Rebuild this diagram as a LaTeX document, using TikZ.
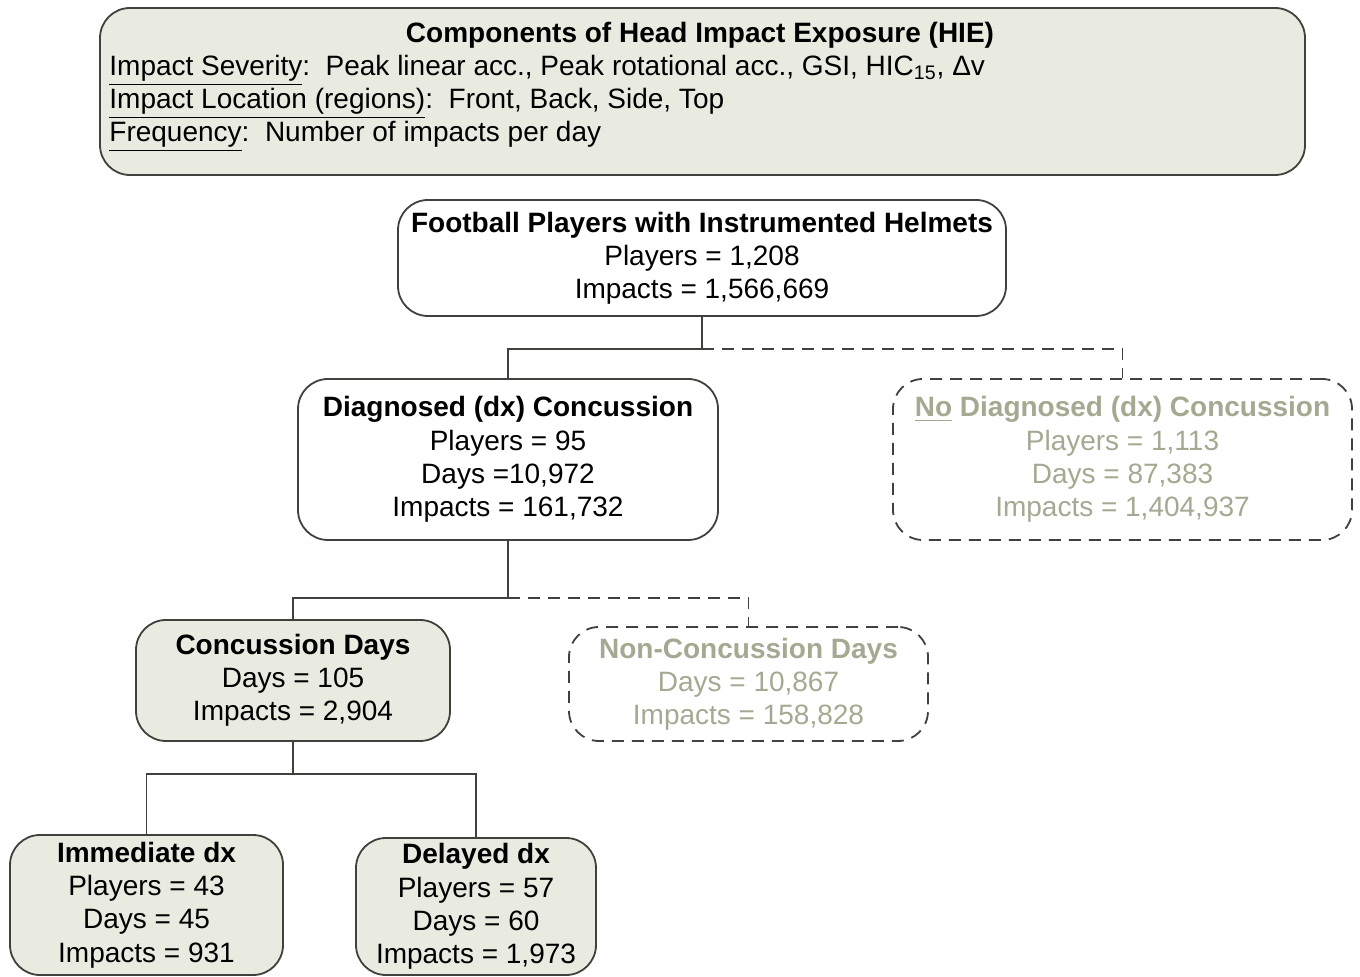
\documentclass[tikz,border=0pt]{standalone}
\usepackage{fontspec}
\setmainfont{Liberation Sans}
\usepackage{xcolor}
\definecolor{boxfill}{RGB}{233,235,224}
\definecolor{fadedgray}{RGB}{166,168,146}
\definecolor{edgegray}{RGB}{64,64,60}
\tikzset{%
    hiebox/.style={draw=edgegray, line width=0.9pt, rounded corners=15pt, inner sep=0pt},
    solidbox/.style={hiebox, align=center},
    dashbox/.style={solidbox, dash pattern=on 6pt off 4pt, text=fadedgray},
    link/.style={draw=edgegray, line width=0.9pt},
    dashlink/.style={link, dash pattern=on 6pt off 4pt}
}

\begin{document}
\begin{tikzpicture}[x=0.5pt,y=-0.5pt,font=\fontsize{14}{16.6}\selectfont]
\useasboundingbox (0,0) rectangle (1360,977);
\node[hiebox, fill=boxfill, minimum width=602.5pt, minimum height=83.5pt] (hie) at (702.5,91.5) {};
\node (hietitle) at (700,35) {\textbf{Components of Head Impact Exposure (HIE)}};
\node[anchor=west, align=left, inner sep=0pt] (hielist) at (109,103.5)
    {\underline{Impact Severity}:\ \ Peak linear acc., Peak rotational acc., GSI, HIC\textsubscript{15}, Δv\\
     \underline{Impact Location (regions)}:\ \ Front, Back, Side, Top\\
     \underline{Frequency}:\ \ Number of impacts per day};

\node[solidbox, fill=white, minimum width=304pt, minimum height=58pt] (football) at (702,258)
    {\textbf{Football Players with Instrumented Helmets}\\Players = 1,208\\Impacts = 1,566,669};
\node[solidbox, fill=white, minimum width=210pt, minimum height=80.5pt] (diag) at (508,459.5)
    {\textbf{Diagnosed (dx) Concussion}\\Players = 95\\Days =10,972\\Impacts = 161,732};
\node[dashbox, minimum width=229.5pt, minimum height=80.5pt] (nodiag) at (1122.5,459.5)
    {\textbf{\underline{No} Diagnosed (dx) Concussion}\\Players = 1,113\\Days = 87,383\\Impacts = 1,404,937};
\node[solidbox, fill=boxfill, minimum width=157pt, minimum height=60.5pt] (concdays) at (293,680.5)
    {\textbf{Concussion Days}\\Days = 105\\Impacts = 2,904};
\node[dashbox, minimum width=179.5pt, minimum height=57pt] (nonconc) at (748.5,684)
    {\textbf{Non-Concussion Days}\\Days = 10,867\\Impacts = 158,828};
\node[solidbox, fill=boxfill, minimum width=136.5pt, minimum height=70pt] (immed) at (146.5,905)
    {\textbf{Immediate dx}\\Players = 43\\Days = 45\\Impacts = 931};
\node[solidbox, fill=boxfill, minimum width=120pt, minimum height=68.5pt] (delayed) at (476,906.5)
    {\textbf{Delayed dx}\\Players = 57\\Days = 60\\Impacts = 1,973};

\draw[link] (football.south) -- ++(0,32) coordinate (split1) -| (diag.north);
\draw[dashlink] (split1) -| (nodiag.north);
\draw[link] (diag.south) -- ++(0,57) coordinate (split2) -| (concdays.north);
\draw[dashlink] (split2) -| (nonconc.north);
\draw[link] (concdays.south) -- ++(0,32) coordinate (split3) -| (immed.north);
\draw[link] (split3) -| (delayed.north);
\end{tikzpicture}
\end{document}
